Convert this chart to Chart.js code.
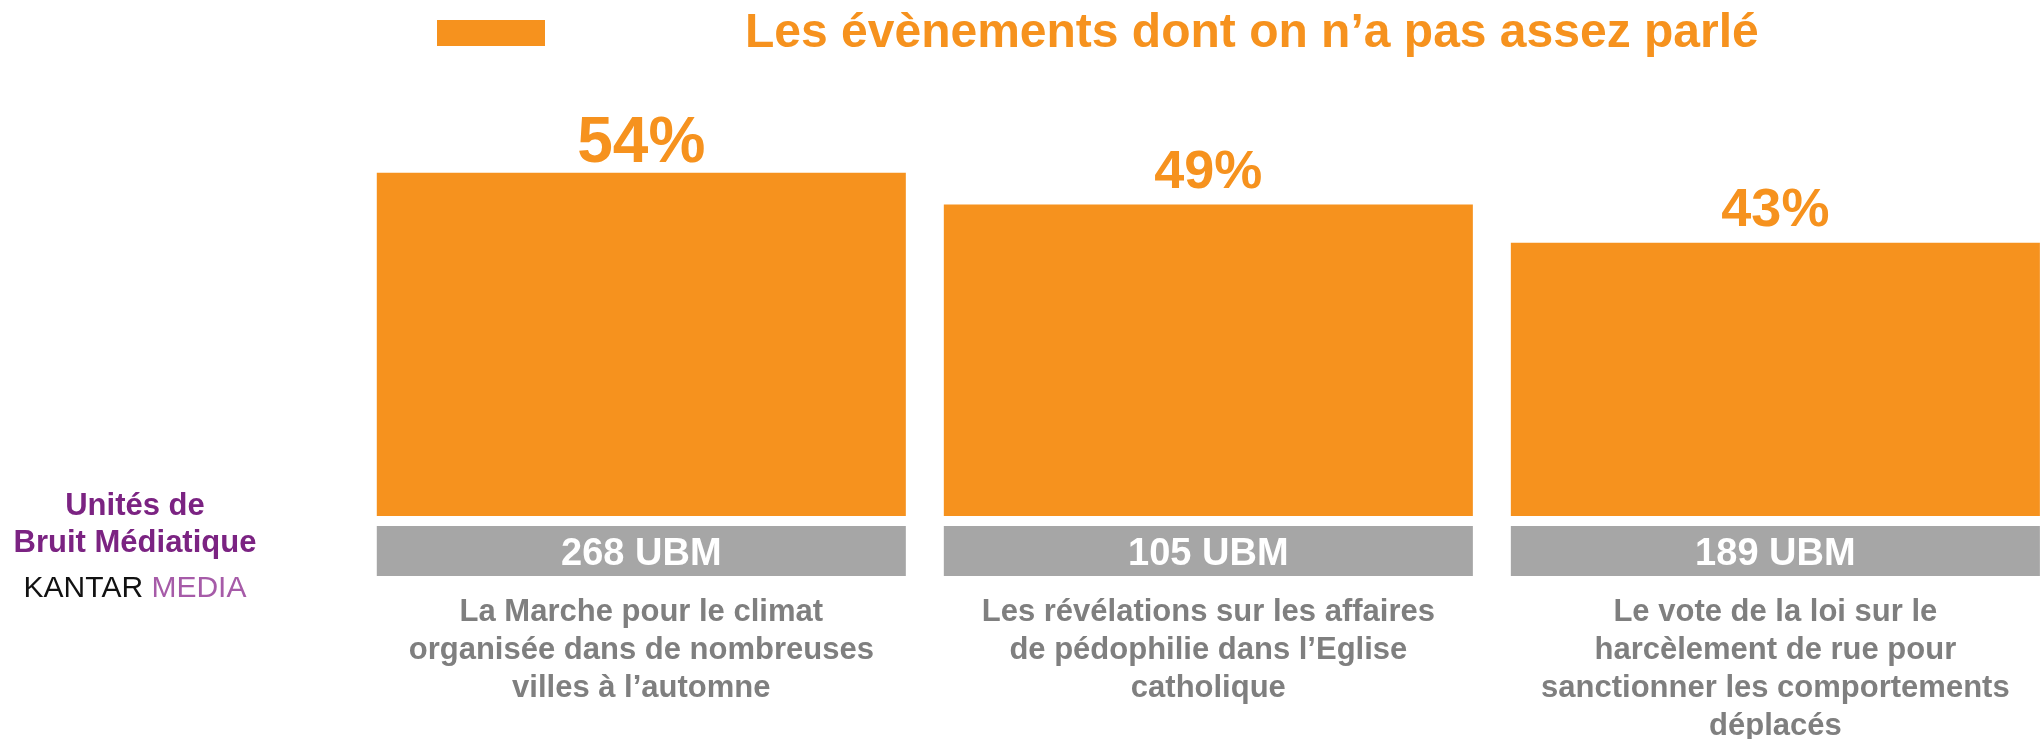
<!DOCTYPE html>
<html>
<head>
<meta charset="utf-8">
<script src="https://cdn.jsdelivr.net/npm/chart.js@4.4.1/dist/chart.umd.min.js"></script>
<style>
  html, body { margin: 0; padding: 0; background: #fff; }
  #wrap { width: 2043px; height: 739px; position: relative; }
</style>
</head>
<body>
<div id="wrap"><canvas id="chart"></canvas></div>
<script>
// data
const seriesLabel = 'Les évènements dont on n’a pas assez parlé';
const categories = [
  ['La Marche pour le climat', 'organisée dans de nombreuses', 'villes à l’automne'],
  ['Les révélations sur les affaires', 'de pédophilie dans l’Eglise', 'catholique'],
  ['Le vote de la loi sur le', 'harcèlement de rue pour', 'sanctionner les comportements', 'déplacés']
];
const pctValues = [54, 49, 43];
const ubmValues = [268, 105, 189];
const sideNote = ['Unités de', 'Bruit Médiatique'];

const ORANGE = '#F6921E';
const GREY_BOX = '#A6A6A6';
const GREY_TEXT = '#7F7F7F';
const PURPLE = '#7B2382';
const FONT = '"Liberation Sans", Arial, sans-serif';

// legend swatch: wide transparent box so the text sits far right of the orange block
const swatch = document.createElement('canvas');
swatch.width = 711;
swatch.height = 34;
const sctx = swatch.getContext('2d');
sctx.fillStyle = ORANGE;
sctx.fillRect(427, 3, 108, 26);

// draws value labels, UBM boxes and the Kantar note
const decorations = {
  id: 'decorations',
  afterDatasetsDraw(chart) {
    const ctx = chart.ctx;
    const meta = chart.getDatasetMeta(0);
    const maxVal = Math.max(...pctValues);
    ctx.save();
    ctx.textAlign = 'center';
    meta.data.forEach((bar, i) => {
      const left = bar.x - bar.width / 2;
      // percentage above bar
      const big = pctValues[i] === maxVal;
      ctx.fillStyle = ORANGE;
      ctx.font = `bold ${big ? 64 : 54}px ${FONT}`;
      ctx.textBaseline = 'alphabetic';
      ctx.fillText(pctValues[i] + '%', bar.x, bar.y - (big ? 11 : 17));
      // grey UBM box under bar
      const top = bar.base + 10;
      ctx.fillStyle = GREY_BOX;
      ctx.fillRect(left, top, bar.width, 50);
      ctx.fillStyle = '#fff';
      ctx.font = `bold 38px ${FONT}`;
      ctx.fillText(ubmValues[i] + ' UBM', bar.x, top + 39);
    });

    // side note on the left
    const midY = meta.data[0].base + 32;
    const cx = 135;
    ctx.fillStyle = PURPLE;
    ctx.font = `bold 31px ${FONT}`;
    ctx.fillText(sideNote[0], cx, midY - 33);
    ctx.fillText(sideNote[1], cx, midY + 4);

    ctx.font = `30px ${FONT}`;
    const w1 = ctx.measureText('KANTAR ').width;
    const w2 = ctx.measureText('MEDIA').width;
    const x0 = cx - (w1 + w2) / 2;
    ctx.textAlign = 'left';
    ctx.fillStyle = '#111';
    ctx.fillText('KANTAR ', x0, midY + 49);
    ctx.fillStyle = '#A65BA8';
    ctx.fillText('MEDIA', x0 + w1, midY + 49);
    ctx.restore();
  }
};

new Chart(document.getElementById('chart'), {
  type: 'bar',
  data: {
    datasets: [{
      label: seriesLabel,
      data: pctValues.map((v, i) => ({ x: i, y: v })),
      backgroundColor: ORANGE,
      borderWidth: 0,
      barPercentage: 0.933,
      categoryPercentage: 1
    }]
  },
  options: {
    responsive: true,
    maintainAspectRatio: false,
    animation: false,
    layout: { padding: { bottom: -6 } },
    plugins: {
      tooltip: { enabled: false },
      legend: {
        align: 'start',
        labels: {
          usePointStyle: true,
          pointStyle: swatch,
          pointStyleWidth: 711,
          padding: 10,
          color: ORANGE,
          font: { family: FONT, size: 48, weight: 'bold' }
        }
      }
    },
    scales: {
      x: {
        type: 'linear',
        offset: false,
        min: -1.131,
        max: 2.472,
        grid: { display: true, offset: false, color: 'transparent', drawTicks: true, tickLength: 77 },
        border: { display: false },
        afterBuildTicks: (axis) => { axis.ticks = categories.map((c, i) => ({ value: i })); },
        afterFit: (axis) => { axis.paddingLeft = 0; axis.paddingRight = 0; },
        ticks: {
          autoSkip: false,
          maxRotation: 0,
          minRotation: 0,
          padding: 0,
          color: GREY_TEXT,
          font: { family: FONT, size: 31, weight: 'bold', lineHeight: '38px' },
          callback: (v) => categories[v]
        }
      },
      y: {
        display: false,
        min: 0,
        max: 70.5
      }
    }
  },
  plugins: [decorations]
});
</script>
</body>
</html>
